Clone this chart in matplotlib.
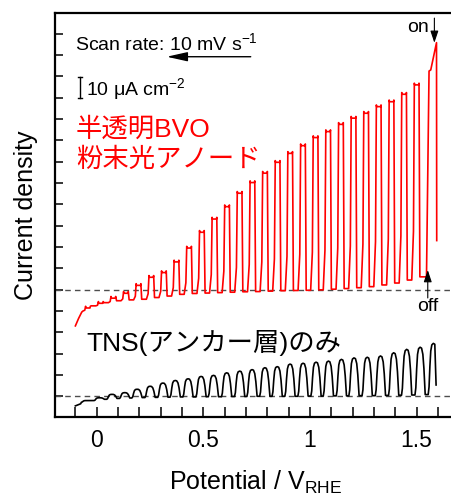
import numpy as np
import matplotlib.pyplot as plt
from matplotlib.ticker import MultipleLocator, FixedLocator, NullFormatter

plt.rcParams['font.family'] = ['Liberation Sans', 'Noto Sans CJK JP']
plt.rcParams['mathtext.fontset'] = 'custom'
plt.rcParams['mathtext.rm'] = 'Liberation Sans'
plt.rcParams['mathtext.it'] = 'Liberation Sans:italic'

# chopped-light LSV, scanned from 1.6 V down to -0.1 V (uA cm-2)
# BVO powder photoanode (red), drawn 50 uA cm-2 above the TNS trace
red_offset = 50
red_head_v = [1.594, 1.593, 1.566, 1.558, 1.546]
red_head_j = [23.0, 115.8, 103.0, 102.5, 6.0]
red_center = [1.500, 1.441, 1.382, 1.322, 1.263, 1.204, 1.145, 1.085, 1.026,
              0.967, 0.907, 0.848, 0.789, 0.730, 0.670, 0.611, 0.552, 0.493,
              0.433, 0.374, 0.315, 0.256, 0.196, 0.137, 0.078, 0.019, -0.041]
red_on = [96.0, 91.6, 88.1, 85.8, 82.7, 80.4, 77.5, 74.1, 71.3,
          67.5, 63.9, 59.7, 54.6, 50.2, 45.2, 38.9, 33.1, 26.9,
          19.5, 13.0, 8.0, 5.8, 2.0, -1.7, -4.0, -6.4, -8.6]
red_dark = [4.5, 3.1, 2.2, 1.4, 0.9, 0.5, 0.2, -0.1, -0.3,
            -0.4, -0.5, -0.7, -0.9, -1.0, -1.2, -1.4, -1.6, -1.8,
            -2.2, -3.0, -3.7, -4.5, -4.8, -5.2, -6.1, -7.6, -10.0]
red_tail_v = [-0.070, -0.085, -0.100]
red_tail_j = [-10.5, -13.5, -17.0]

# TNS anchor layer only (black)
black_start_v = 1.591
black_start_j = 5.3
black_center = [1.578, 1.516, 1.453, 1.392, 1.330, 1.268, 1.206, 1.147, 1.086,
                1.028, 0.967, 0.906, 0.846, 0.788, 0.728, 0.670, 0.609, 0.547,
                0.489, 0.428, 0.368, 0.310, 0.250, 0.189, 0.131, 0.071, 0.012, -0.048]
black_on = [24.8, 23.0, 22.0, 20.4, 18.9, 18.3, 18.0, 17.3, 16.5,
            16.0, 15.5, 15.1, 13.9, 13.4, 12.5, 11.8, 11.0, 9.8,
            9.3, 8.2, 7.4, 6.2, 4.7, 3.3, 1.7, 0.9, -0.7, -2.0]
black_dark = [0.8, 0.6, 0.5, 0.4, 0.3, 0.3, 0.2, 0.2, 0.1,
              0.1, 0.0, 0.0, 0.0, 0.0, -0.1, -0.1, -0.2, -0.2,
              -0.3, -0.3, -0.4, -0.5, -0.6, -0.8, -1.0, -1.4, -2.0, -2.8]
black_tail_v = [-0.075, -0.100]
black_tail_j = [-3.5, -4.5]

scale_bar = 10  # uA cm-2
scale_bar_base = 139.7


def red_trace():
    v, j = list(red_head_v), list(red_head_j)
    hw, horn = 0.011, 0.8
    d_prev = red_head_j[-1]
    for c, on, d in zip(red_center, red_on, red_dark):
        v += [c + hw + 0.004, c + hw, c + hw - 0.0015, c - hw + 0.0015,
              c - hw, c - hw - 0.004, c - hw - 0.012]
        j += [d_prev, on + horn, on, on, on + horn, d + 0.25 * (on - d), d]
        d_prev = d
    v += red_tail_v
    j += red_tail_j
    return np.array(v), np.array(j) + red_offset


def black_trace():
    dv = [0.024, 0.018, 0.013, 0.007, 0.0, -0.007, -0.012, -0.016, -0.020, -0.024]
    fr = [0.0, 0.55, 0.85, 0.98, 1.0, 0.97, 0.85, 0.55, 0.15, 0.0]
    v, j = [black_start_v], [black_start_j]
    d_prev = black_start_j
    for c, on, d in zip(black_center, black_on, black_dark):
        for a, f in zip(dv, fr):
            base = d_prev if a > 0 else d
            if c + a < black_start_v:
                v.append(c + a)
                j.append(base + f * (on - base))
        d_prev = d
    v += black_tail_v
    j += black_tail_j
    return np.array(v), np.array(j)


fig = plt.figure(figsize=(4.52, 4.98), dpi=100)
ax = fig.add_axes([0.1217, 0.1627, 0.8883, 0.8112])

ax.axhline(0, color='0.3', lw=1, dashes=(4, 3))
ax.axhline(red_offset, color='0.3', lw=1, dashes=(4, 3))

rv, rj = red_trace()
bv, bj = black_trace()
ax.plot(rv, rj, color='red', lw=1.2)
ax.plot(bv, bj, color='black', lw=1.2)

ax.set_xlim(-0.1955, 1.6868)
ax.set_ylim(-9.7, 179.7)

ax.xaxis.set_major_locator(FixedLocator([0, 0.5, 1, 1.5]))
ax.xaxis.set_minor_locator(FixedLocator([-0.1, 0.1, 0.2, 0.3, 0.4, 0.6, 0.7, 0.8, 0.9,
                                         1.1, 1.2, 1.3, 1.4, 1.6]))
ax.set_xticklabels(['0', '0.5', '1', '1.5'])
ax.yaxis.set_major_locator(MultipleLocator(10))
ax.yaxis.set_major_formatter(NullFormatter())
ax.tick_params(axis='x', which='both', direction='in', length=7, width=1.1,
               labelsize=16.5, pad=9)
ax.tick_params(axis='y', which='both', direction='in', length=6, width=1.1)
for s in ax.spines.values():
    s.set_linewidth(1.6)

ax.set_xlabel('Potential / V$_{\\mathregular{RHE}}$', fontsize=18)
ax.set_ylabel('Current density', fontsize=18)
ax.xaxis.set_label_coords(0.5, -0.128)
ax.yaxis.set_label_coords(-0.043, 0.5)

# scan direction
ax.text(-0.101, 162.2, 'Scan rate: 10 mV s$^{\\mathregular{-1}}$', fontsize=14,
        ha='left', va='baseline')
ax.annotate('', xy=(0.328, 159.2), xytext=(0.722, 159.2),
            arrowprops=dict(arrowstyle='-|>,head_length=0.9,head_width=0.2',
                            mutation_scale=14, lw=1, color='black',
                            shrinkA=0, shrinkB=0))

# scale bar
xb = -0.078
ax.plot([xb, xb], [scale_bar_base, scale_bar_base + scale_bar], color='black', lw=1)
for yb in (scale_bar_base, scale_bar_base + scale_bar):
    ax.plot([xb - 0.008, xb + 0.008], [yb, yb], color='black', lw=1)
ax.text(-0.050, 141.3, '10 μA cm$^{\\mathregular{-2}}$', fontsize=14,
        ha='left', va='baseline')

# sample labels
ax.text(-0.097, 125.3, '半透明BVO', color='red', fontsize=19, ha='left', va='center')
ax.text(-0.097, 110.9, '粉末光アノード', color='red', fontsize=19, ha='left', va='center')
ax.text(-0.050, 25.0, 'TNS(アンカー層)のみ', color='black', fontsize=19,
        ha='left', va='center')

# light on / off markers
ax.text(1.504, 172.7, 'on', fontsize=14, ha='center', va='center')
ax.annotate('', xy=(1.583, 165.7), xytext=(1.583, 177.3),
            arrowprops=dict(arrowstyle='-|>,head_length=0.6,head_width=0.2',
                            mutation_scale=12, lw=0.8, color='black',
                            shrinkA=0, shrinkB=0))
ax.text(1.551, 42.0, 'off', fontsize=14, ha='center', va='center')
ax.annotate('', xy=(1.552, 59.2), xytext=(1.552, 46.1),
            arrowprops=dict(arrowstyle='-|>,head_length=0.6,head_width=0.2',
                            mutation_scale=12, lw=0.8, color='black',
                            shrinkA=0, shrinkB=0))

fig.savefig('out.png', dpi=100)
